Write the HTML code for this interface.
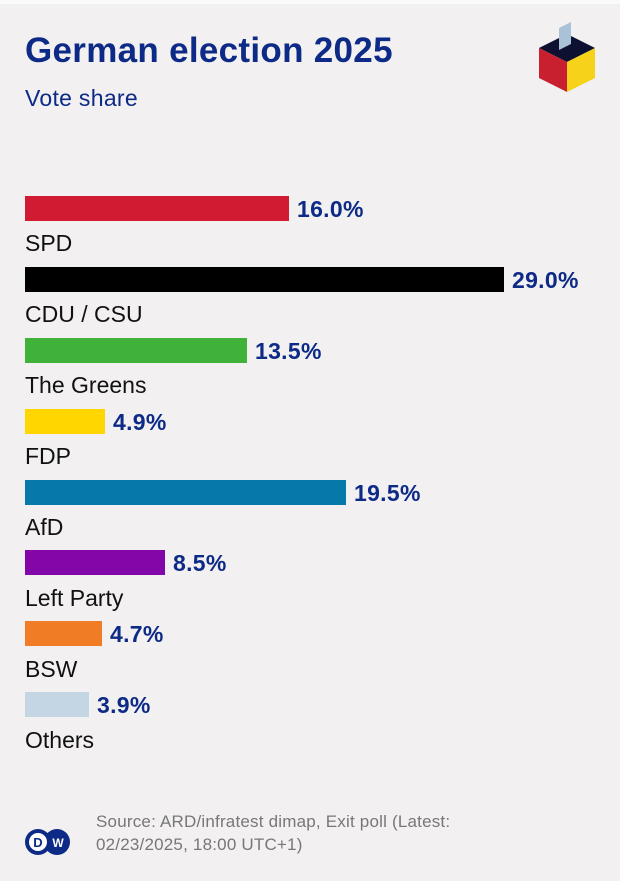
<!DOCTYPE html>
<html><head><style>
body{margin:0;width:620px;height:881px;background:#f2f0f1;font-family:"Liberation Sans",sans-serif;position:relative;overflow:hidden}
.a{position:absolute;white-space:nowrap}
.bar{position:absolute;left:25px;height:25px}
.v{position:absolute;font-weight:bold;font-size:23px;color:#0c2a86;line-height:25px;letter-spacing:0.3px}
.l{position:absolute;left:25px;font-size:23px;color:#111;line-height:26px}
</style></head><body>
<div class="a" style="left:0;top:0;width:620px;height:4px;background:#fafafa"></div>
<div class="a" style="left:25px;top:31px;font-size:35px;font-weight:bold;color:#0c2a86;letter-spacing:0.3px">German election 2025</div>
<div class="a" style="left:25px;top:85px;font-size:23px;color:#0c2a86;letter-spacing:0.3px">Vote share</div>
<svg class="a" style="left:535px;top:18px" width="64" height="76" viewBox="0 0 64 76">
<polygon points="4,30 32,16 60,30 32,44" fill="#0d1030"/>
<polygon points="4,30 32,44 32,74 4,60" fill="#c8202e"/>
<polygon points="32,44 60,30 60,60 32,74" fill="#f6d21a"/>
<polygon points="24,10 36,4 36,26 24,32" fill="#a9c2d8"/>
</svg>
<div class="bar" style="top:196px;width:264px;background:#d11b33"></div><div class="v" style="left:297px;top:197px">16.0%</div>
<div class="l" style="top:230px">SPD</div>
<div class="bar" style="top:267px;width:479px;background:#000"></div><div class="v" style="left:512px;top:268px">29.0%</div>
<div class="l" style="top:301px">CDU / CSU</div>
<div class="bar" style="top:338px;width:222px;background:#40b23a"></div><div class="v" style="left:255px;top:339px">13.5%</div>
<div class="l" style="top:372px">The Greens</div>
<div class="bar" style="top:409px;width:80px;background:#ffd600"></div><div class="v" style="left:113px;top:410px">4.9%</div>
<div class="l" style="top:443px">FDP</div>
<div class="bar" style="top:480px;width:321px;background:#0778aa"></div><div class="v" style="left:354px;top:481px">19.5%</div>
<div class="l" style="top:514px">AfD</div>
<div class="bar" style="top:550px;width:140px;background:#8206a8"></div><div class="v" style="left:173px;top:551px">8.5%</div>
<div class="l" style="top:585px">Left Party</div>
<div class="bar" style="top:621px;width:77px;background:#f07c26"></div><div class="v" style="left:110px;top:622px">4.7%</div>
<div class="l" style="top:656px">BSW</div>
<div class="bar" style="top:692px;width:64px;background:#c4d6e4"></div><div class="v" style="left:97px;top:693px">3.9%</div>
<div class="l" style="top:727px">Others</div>
<svg class="a" style="left:24px;top:827px" width="48" height="30" viewBox="0 0 48 30">
<circle cx="14" cy="15" r="13" fill="#0c2a86"/><circle cx="33" cy="15" r="13" fill="#0c2a86"/>
<circle cx="14" cy="15" r="9" fill="#fff"/>
<text x="14" y="20" font-family="Liberation Sans" font-weight="bold" font-size="13" fill="#0c2a86" text-anchor="middle">D</text>
<text x="34" y="20" font-family="Liberation Sans" font-weight="bold" font-size="12" fill="#fff" text-anchor="middle">W</text>
</svg>
<div class="a" style="left:96px;top:810px;font-size:17px;color:#777;line-height:23px;letter-spacing:0.2px">Source: ARD/infratest dimap, Exit poll (Latest:<br>02/23/2025, 18:00 UTC+1)</div>
</body></html>
